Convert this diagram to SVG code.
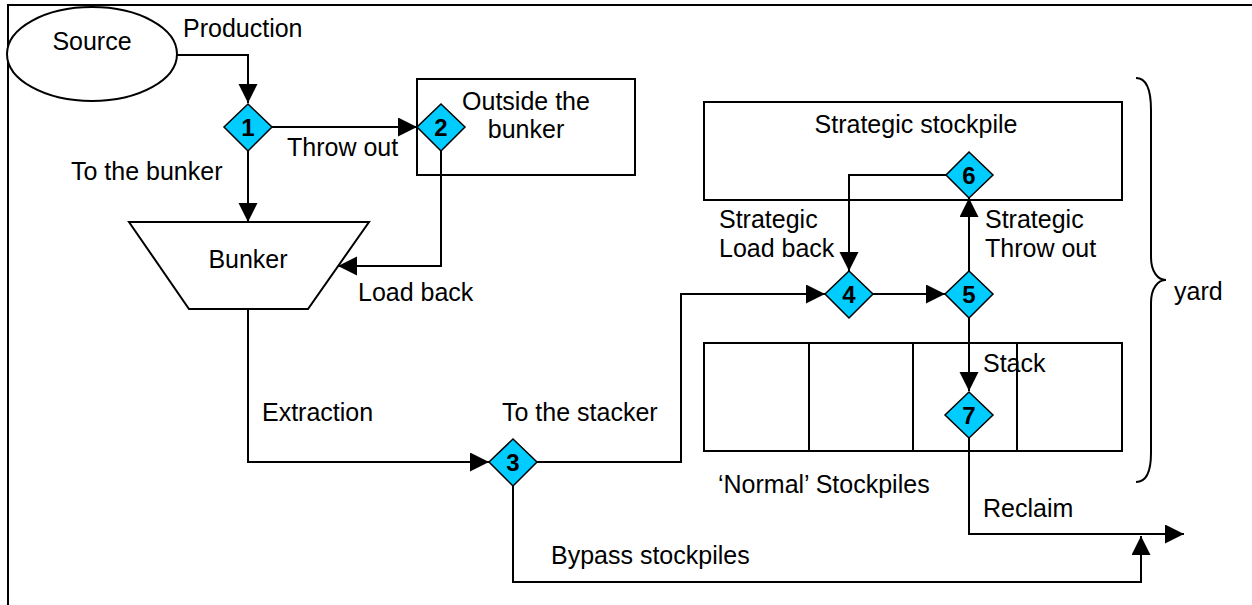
<svg xmlns="http://www.w3.org/2000/svg" width="1252" height="605" viewBox="0 0 1252 605">
<style>
text{font-family:"Liberation Sans",Arial,sans-serif;font-size:25px;fill:#000}
.num{font-weight:bold;font-size:24px;text-anchor:middle}
.mid{text-anchor:middle}
.shape{fill:#fff;stroke:#000;stroke-width:2}
.dia{fill:#00CCFF;stroke:#000;stroke-width:1.5}
.ln{fill:none;stroke:#000;stroke-width:2}
</style>
<defs>
<marker id="ah" markerUnits="userSpaceOnUse" markerWidth="20" markerHeight="20" refX="19" refY="9.5" orient="auto">
<path d="M0,0 L19,9.5 L0,19 z" fill="#000"/>
</marker>
</defs>
<rect width="1252" height="605" fill="#fff"/>
<path d="M8,605 V5 H1252" fill="none" stroke="#000" stroke-width="2"/>

<g id="source"><ellipse class="shape" cx="92" cy="54" rx="85" ry="47"/><text class="mid" x="92" y="50">Source</text></g>
<g id="outside"><rect class="shape" x="417" y="79" width="218" height="96"/><text class="mid" x="526" y="110">Outside the</text><text class="mid" x="526" y="138">bunker</text></g>
<g id="bunker"><polygon class="shape" points="129,222 369,222 308,309 189,309"/><text class="mid" x="248" y="268">Bunker</text></g>
<g id="strategic"><rect class="shape" x="704" y="102" width="418" height="98"/><text class="mid" x="916" y="133">Strategic stockpile</text></g>
<g id="normal"><rect class="shape" x="704" y="343" width="418" height="108"/><line class="ln" x1="809" y1="343" x2="809" y2="451"/><line class="ln" x1="913" y1="343" x2="913" y2="451"/><line class="ln" x1="1017" y1="343" x2="1017" y2="451"/><text x="718" y="493">‘Normal’ Stockpiles</text></g>
<g id="yard"><path class="ln" d="M1136,78 C1146,78 1151,90 1151,110 V257 C1151,272 1158,280 1166,280 C1158,280 1151,288 1151,303 V453 C1151,472 1146,482 1136,482"/><text x="1174" y="300">yard</text></g>

<g id="connectors">
<path class="ln" d="M177,55 H248 V103" marker-end="url(#ah)"/>
<path class="ln" d="M248,150 V222" marker-end="url(#ah)"/>
<path class="ln" d="M272,127 H417" marker-end="url(#ah)"/>
<path class="ln" d="M441,150 V266 H338" marker-end="url(#ah)"/>
<path class="ln" d="M248,309 V462 H489" marker-end="url(#ah)"/>
<path class="ln" d="M537,462 H681 V294 H825" marker-end="url(#ah)"/>
<path class="ln" d="M873,294 H945" marker-end="url(#ah)"/>
<path class="ln" d="M946,175 H849 V271" marker-end="url(#ah)"/>
<path class="ln" d="M969,271 V198" marker-end="url(#ah)"/>
<path class="ln" d="M969,318 V391" marker-end="url(#ah)"/>
<path class="ln" d="M969,438 V534 H1184" marker-end="url(#ah)"/>
<path class="ln" d="M513,486 V582 H1141 V536" marker-end="url(#ah)"/>
<text x="183" y="37">Production</text>
<text x="287" y="156">Throw out</text>
<text x="71" y="180">To the bunker</text>
<text x="358" y="301">Load back</text>
<text x="262" y="421">Extraction</text>
<text x="502" y="421">To the stacker</text>
<text x="551" y="564">Bypass stockpiles</text>
<text x="719" y="228">Strategic</text>
<text x="719" y="257">Load back</text>
<text x="985" y="228">Strategic</text>
<text x="985" y="257">Throw out</text>
<text x="983" y="372">Stack</text>
<text x="983" y="517">Reclaim</text>
</g>

<g id="d1"><polygon class="dia" points="248,104 272,127 248,151 224,127"/><text class="num" x="248" y="136">1</text></g>
<g id="d2"><polygon class="dia" points="441,104 465,127 441,151 417,127"/><text class="num" x="441" y="136">2</text></g>
<g id="d3"><polygon class="dia" points="513,439 537,462 513,486 489,462"/><text class="num" x="513" y="471">3</text></g>
<g id="d4"><polygon class="dia" points="849,271 873,294 849,318 825,294"/><text class="num" x="849" y="303">4</text></g>
<g id="d5"><polygon class="dia" points="969,271 993,294 969,318 945,294"/><text class="num" x="969" y="303">5</text></g>
<g id="d6"><polygon class="dia" points="969,152 993,175 969,198 946,175"/><text class="num" x="969" y="184">6</text></g>
<g id="d7"><polygon class="dia" points="969,392 993,415 969,438 945,415"/><text class="num" x="969" y="424">7</text></g>
</svg>
